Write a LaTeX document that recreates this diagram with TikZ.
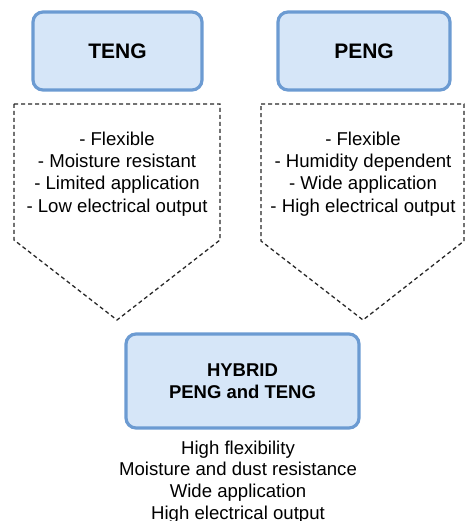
\documentclass[tikz,border=0pt]{standalone}
\usepackage{fontspec}
\setmainfont{Liberation Sans}
\definecolor{boxborder}{RGB}{108,155,210}
\definecolor{boxfill}{RGB}{214,230,248}
\definecolor{dashcol}{RGB}{40,40,40}
\begin{document}
\begin{tikzpicture}[x=1pt,y=-1pt,
  titlebox/.style={draw=boxborder, fill=boxfill, line width=3.2pt, rounded corners=10pt, inner sep=0pt, font=\fontsize{21}{25}\selectfont\bfseries, align=center},
  dashline/.style={draw=dashcol, line width=1.3pt, dash pattern=on 4pt off 3pt},
  listtext/.style={align=center, inner sep=0pt, font=\fontsize{18.6}{22.3}\selectfont}]
\useasboundingbox (0,0) rectangle (465,521);
% top boxes
\node[titlebox, minimum width=169pt, minimum height=78pt] (teng) at (117.5,51) {TENG};
\node[titlebox, minimum width=172pt, minimum height=78pt] (peng) at (364,51) {PENG};
% dashed pentagons
\draw[dashline] (14,104) -- (220,104) -- (220,240) -- (117,320) -- (14,240) -- cycle;
\draw[dashline] (261,104) -- (464,104) -- (464,241) -- (363,320) -- (261,241) -- cycle;
% lists
\node[listtext] (tlist) at (117,174) {- Flexible\\- Moisture resistant\\- Limited application\\- Low electrical output};
\node[listtext] (plist) at (363,174) {- Flexible\\- Humidity dependent\\- Wide application\\- High electrical output};
% hybrid
\node[titlebox, minimum width=233pt, minimum height=94pt, font=\fontsize{18.5}{22}\selectfont\bfseries] (hyb) at (242.5,381) {HYBRID\\PENG and TENG};
\node[listtext, font=\fontsize{18.6}{21.8}\selectfont] (hlist) at (238,482) {High flexibility\\Moisture and dust resistance\\Wide application\\High electrical output};
\end{tikzpicture}
\end{document}
